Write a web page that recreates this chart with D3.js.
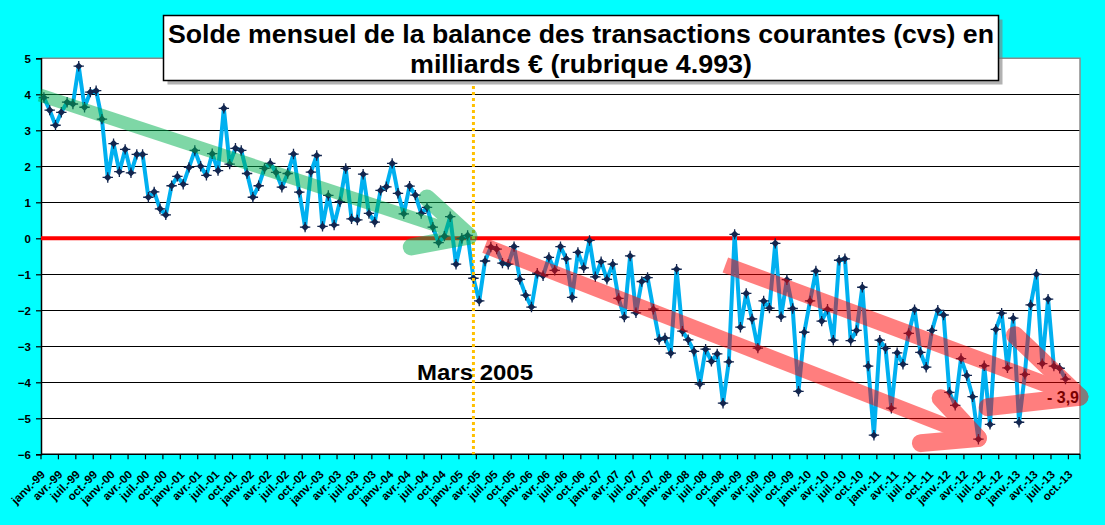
<!DOCTYPE html>
<html><head><meta charset="utf-8">
<script src="https://cdn.jsdelivr.net/npm/d3@7"></script>
<style>
html,body{margin:0;padding:0;background:#00FFFF;}
svg{display:block;font-family:"Liberation Sans",Arial,sans-serif;}
</style>
</head><body>
<svg id="chart" width="1105" height="525"></svg>
<script>
// ---------- DATA ----------
const monthAbbr = ["janv.","févr.","mars","avr.","mai","juin","juil.","août","sept.","oct.","nov.","déc."];
const firstYear = 1999;
const categoryCount = 179;          // janv.-99 ... nov.-13
const labelEvery = 3;
const titleLines = ["Solde mensuel de la balance des transactions courantes (cvs) en", "milliards € (rubrique 4.993)"];
const yTicks = [5,4,3,2,1,0,-1,-2,-3,-4,-5,-6];
const markerLabel = "Mars 2005";
const markerIndex = 74;             // mars 2005
const endLabel = "- 3,9";

// monthly current-account balance, bn € (janv.-99 .. sept.-13)
const balance = [
 3.91,3.56,3.14,3.50,3.78,3.73,4.78,3.64,4.06,4.10,3.31,1.69,
 2.63,1.85,2.47,1.82,2.33,2.33,1.14,1.29,0.82,0.65,1.46,1.72,
 1.50,1.97,2.44,2.00,1.75,2.35,1.88,3.61,2.06,2.50,2.44,1.80,
 1.14,1.46,1.94,2.08,1.83,1.42,1.80,2.34,1.28,0.31,1.84,2.30,
 0.33,1.19,0.37,1.02,1.94,0.54,0.51,1.78,0.69,0.45,1.33,1.43,
 2.08,1.25,0.68,1.45,1.20,0.69,0.86,0.31,-0.12,0.06,0.60,-0.72,
 0.00,0.08,-1.11,-1.74,-0.63,-0.24,-0.30,-0.69,-0.72,-0.23,-1.14,-1.58,
 -1.91,-0.97,-1.04,-0.53,-0.89,-0.23,-0.57,-1.64,-0.39,-0.82,-0.06,-1.07,
 -0.65,-1.14,-0.72,-1.67,-2.19,-0.49,-2.07,-1.20,-1.09,-1.97,-2.81,-2.77,
 -3.19,-0.86,-2.58,-2.82,-3.14,-4.05,-3.08,-3.42,-3.21,-4.58,-3.43,0.11,
 -2.47,-1.53,-2.24,-3.05,-1.74,-1.94,-0.14,-2.18,-1.15,-1.95,-4.25,-2.61,
 -1.74,-0.91,-2.30,-1.97,-2.83,-0.61,-0.57,-2.84,-2.56,-1.36,-3.55,-5.47,
 -2.83,-3.06,-4.72,-3.18,-3.50,-2.64,-1.98,-3.17,-3.58,-2.56,-2.00,-2.13,
 -4.28,-4.64,-3.34,-3.81,-4.40,-5.58,-3.54,-5.17,-2.53,-2.08,-3.60,-2.22,
 -5.11,-3.78,-1.85,-1.00,-3.48,-1.69,-3.55,-3.61,-3.91
];

// trend arrows, in (category index, value) coordinates
const greenArrow = {
  shaft: [[-0.7, 3.98], [73.2, 0.06]],
  arms:  [[[66.0, 1.12], [73.2, 0.06]], [[63.3, -0.24], [73.2, 0.06]]]
};
const redArrowLow = {
  shaft: [[76.0, -0.21], [160.9, -5.55]],
  arms:  [[[154.5, -4.44], [160.9, -5.55]], [[151.1, -5.69], [160.9, -5.55]]]
};
const redArrowHigh = {
  shaft: [[117.4, -0.74], [178.4, -4.40]],
  arms:  [[[167.3, -2.69], [178.4, -4.40]], [[162.6, -4.69], [178.4, -4.40]]]
};

// ---------- BUILD ----------
const categories = d3.range(categoryCount).map(i => {
  const y = firstYear + Math.floor(i / 12);
  return monthAbbr[i % 12] + "-" + String(y % 100).padStart(2, "0");
});

const svg = d3.select("#chart");
const W = 1105, H = 525;
const plot = {left: 41, right: 1080, top: 58.3, bottom: 454.3};

svg.append("rect").attr("width", W).attr("height", H).attr("fill", "#00FFFF");

const x = d3.scaleBand().domain(categories).range([plot.left, plot.right]).padding(0);
const xi = d3.scaleLinear().domain([0, categoryCount]).range([plot.left, plot.right]);
const y = d3.scaleLinear().domain([-6, 5]).range([plot.bottom, plot.top]);
const cx = i => xi(i + 0.5);

// plot area
svg.append("rect").attr("x", plot.left).attr("y", plot.top)
  .attr("width", plot.right - plot.left).attr("height", plot.bottom - plot.top)
  .attr("fill", "#fff");

// gridlines
svg.append("g").selectAll("line").data(yTicks.filter(v => v !== 0 && v !== -6 && v !== 5)).join("line")
  .attr("x1", plot.left).attr("x2", plot.right)
  .attr("y1", d => y(d)).attr("y2", d => y(d))
  .attr("stroke", "#000").attr("stroke-width", 1.2).attr("shape-rendering", "crispEdges");

// border (top/right grey)
svg.append("path")
  .attr("d", `M${plot.left},${plot.top}H${plot.right}V${plot.bottom}`)
  .attr("fill", "none").attr("stroke", "#8c8c8c").attr("stroke-width", 1.5);

// y axis
const yAxis = d3.axisLeft(y).tickValues(yTicks).tickSize(5).tickFormat(d3.format("d"));
const gy = svg.append("g").attr("transform", `translate(${plot.left},0)`).call(yAxis);
gy.select(".domain").attr("stroke", "#000").attr("stroke-width", 1.5);
gy.selectAll(".tick line").attr("stroke", "#000").attr("stroke-width", 1.2);
gy.selectAll("text").attr("font-size", 11.5).attr("font-weight", "bold").attr("fill", "#000")
  .attr("x", -10).attr("dy", "0.35em");

// x axis
const gx = svg.append("g").attr("transform", `translate(0,${plot.bottom})`);
gx.append("line").attr("x1", plot.left).attr("x2", plot.right).attr("stroke", "#000").attr("stroke-width", 1.5);
const tickIdx = d3.range(0, categoryCount + 1, labelEvery).concat([categoryCount]);
gx.selectAll("line.t").data(tickIdx).join("line").attr("class", "t")
  .attr("x1", d => xi(d)).attr("x2", d => xi(d)).attr("y1", 0).attr("y2", 5)
  .attr("stroke", "#000").attr("stroke-width", 1.2);
const labelCats = categories.filter((c, i) => i % labelEvery === 0);
gx.selectAll("text").data(labelCats).join("text")
  .attr("transform", d => `translate(${x(d) + x.bandwidth() / 2 + 2},${21}) rotate(-45)`)
  .attr("text-anchor", "end")
  .attr("font-size", 11.5).attr("font-weight", "bold").attr("fill", "#000")
  .text(d => d);

// zero line
svg.append("line").attr("x1", plot.left).attr("x2", plot.right)
  .attr("y1", y(0)).attr("y2", y(0)).attr("stroke", "#FF0000").attr("stroke-width", 4);

// series
const line = d3.line().x((d, i) => cx(i)).y(d => y(d)).curve(d3.curveLinear);
svg.append("path").datum(balance).attr("d", line)
  .attr("fill", "none").attr("stroke", "#00B0F0").attr("stroke-width", 4)
  .attr("stroke-linejoin", "round");

const mk = svg.append("g").selectAll("g").data(balance).join("g")
  .attr("transform", (d, i) => `translate(${cx(i)},${y(d)})`);
mk.append("path").attr("d", "M0,-3.8L3.8,0L0,3.8L-3.8,0Z").attr("fill", "#13264f");
mk.append("path").attr("d", "M0,-5.2V5.2M-5.2,0H5.2").attr("stroke", "#13264f").attr("stroke-width", 1.3);

// vertical dotted line (Mars 2005)
svg.append("line").attr("x1", cx(markerIndex)).attr("x2", cx(markerIndex))
  .attr("y1", 86).attr("y2", plot.bottom)
  .attr("stroke", "#FFC000").attr("stroke-width", 3).attr("stroke-dasharray", "3,3");

// arrows
function drawArrow(a, color, shaftW, armW) {
  const g = svg.append("g").attr("opacity", 0.5);
  const P = p => [cx(p[0]), y(p[1])];
  const s0 = P(a.shaft[0]), s1 = P(a.shaft[1]);
  g.append("line").attr("x1", s0[0]).attr("y1", s0[1]).attr("x2", s1[0]).attr("y2", s1[1])
    .attr("stroke", color).attr("stroke-width", shaftW).attr("stroke-linecap", "butt");
  a.arms.forEach(arm => {
    const a0 = P(arm[0]), a1 = P(arm[1]);
    g.append("line").attr("x1", a0[0]).attr("y1", a0[1]).attr("x2", a1[0]).attr("y2", a1[1])
      .attr("stroke", color).attr("stroke-width", armW).attr("stroke-linecap", "round");
  });
}
drawArrow(greenArrow, "#00B050", 13, 17);
drawArrow(redArrowLow, "#FF0000", 15, 18);
drawArrow(redArrowHigh, "#FF0000", 16, 18);

// labels
svg.append("text").attr("x", 417).attr("y", 379.5)
  .attr("font-size", 22).attr("font-weight", "bold").attr("fill", "#000")
  .attr("textLength", 116).attr("lengthAdjust", "spacingAndGlyphs")
  .text(markerLabel);

svg.append("text").attr("x", 1079).attr("y", 402.5).attr("text-anchor", "end")
  .attr("font-size", 16).attr("font-weight", "bold").attr("fill", "#7a0000")
  .text(endLabel);

// title box
const tb = {x: 163.5, y: 15.5, w: 835, h: 65};
svg.append("rect").attr("x", tb.x + 4).attr("y", tb.y + 4).attr("width", tb.w).attr("height", tb.h)
  .attr("fill", "#7f7f7f").attr("opacity", 0.6);
svg.append("rect").attr("x", tb.x).attr("y", tb.y).attr("width", tb.w).attr("height", tb.h)
  .attr("fill", "#fff").attr("stroke", "#000").attr("stroke-width", 1.5);
const tcx = tb.x + tb.w / 2;
svg.append("text").attr("x", tcx).attr("y", 42.5).attr("text-anchor", "middle")
  .attr("font-family", "'Liberation Sans Narrow','Arial Narrow','Liberation Sans',sans-serif")
  .attr("font-size", 26).attr("font-weight", "bold").attr("fill", "#000")
  .attr("textLength", 826).attr("lengthAdjust", "spacingAndGlyphs")
  .text(titleLines[0]);
svg.append("text").attr("x", tcx).attr("y", 73).attr("text-anchor", "middle")
  .attr("font-family", "'Liberation Sans Narrow','Arial Narrow','Liberation Sans',sans-serif")
  .attr("font-size", 26).attr("font-weight", "bold").attr("fill", "#000")
  .attr("textLength", 342).attr("lengthAdjust", "spacingAndGlyphs")
  .text(titleLines[1]);
</script>
</body></html>
